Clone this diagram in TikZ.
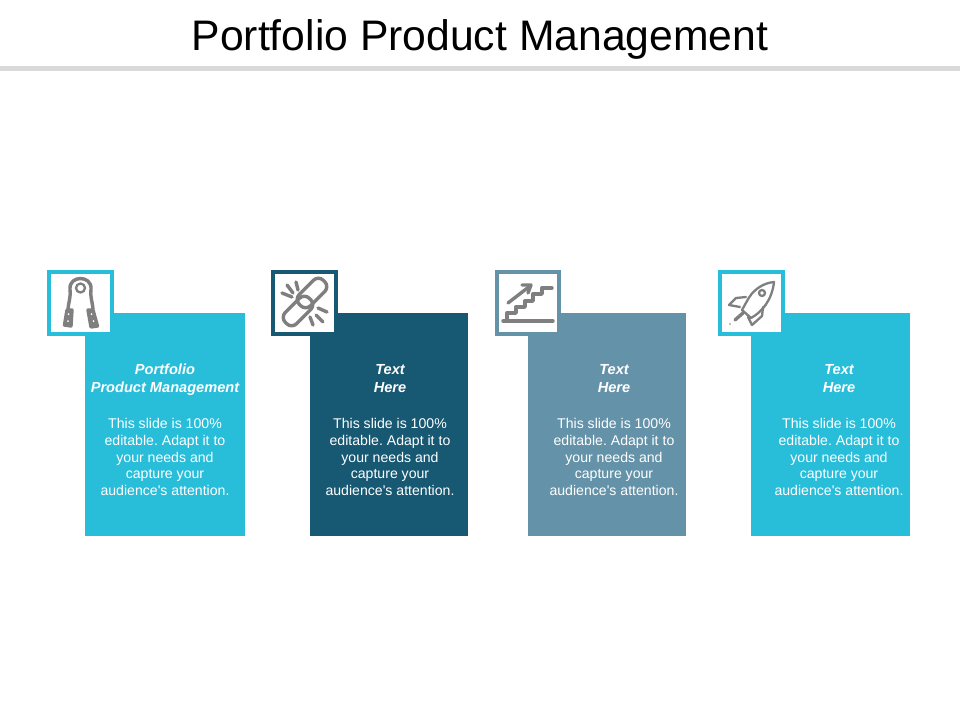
\documentclass[tikz,border=0pt]{standalone}
\usepackage{fontspec}
\setmainfont{Liberation Sans}
\definecolor{cardcyan}{HTML}{28BDD9}
\definecolor{carddark}{HTML}{175873}
\definecolor{cardsteel}{HTML}{6492A8}
\definecolor{icongray}{HTML}{7F7F7F}
\definecolor{rulegray}{HTML}{D9D9D9}
\tikzset{
  card/.style={minimum height=223pt, inner sep=0pt, outer sep=0pt},
  iconbox/.style={draw, line width=4pt, fill=white, minimum size=62.5pt, inner sep=0pt, outer sep=0pt},
  heading/.style={text=white, align=center, inner sep=0pt, font=\fontsize{14.6}{18}\selectfont\bfseries\itshape},
  blurb/.style={text=white, align=center, inner sep=0pt, font=\fontsize{14.1}{16.8}\selectfont\frenchspacing},
  icon/.style={draw=icongray, line width=3.4pt, line cap=round, line join=round},
  iconthin/.style={draw=icongray, line width=2.3pt, line cap=round, line join=round}
}
\begin{document}
\begin{tikzpicture}[x=1pt, y=-1pt]
  \useasboundingbox (0,0) rectangle (960,720);
  \node [inner sep=0pt, font=\fontsize{42.7}{48}\selectfont] (title) at (480,39) {Portfolio Product Management};
  \fill [rulegray] (0,65.5) rectangle (960,71);

  \node [card, fill=cardcyan, minimum width=160pt] (card1) at (165,424.5) {};
  \node [card, fill=carddark, minimum width=158pt] (card2) at (389,424.5) {};
  \node [card, fill=cardsteel, minimum width=158pt] (card3) at (607,424.5) {};
  \node [card, fill=cardcyan, minimum width=159pt] (card4) at (830.5,424.5) {};

  \node [iconbox, draw=cardcyan] (box1) at (80.5,303) {};
  \node [iconbox, draw=carddark] (box2) at (304.5,303) {};
  \node [iconbox, draw=cardsteel] (box3) at (528,303) {};
  \node [iconbox, draw=cardcyan] (box4) at (751.5,303) {};

  \node [heading] (head1) at (165,380) {Portfolio\\Product Management};
  \node [heading] (head2) at (390,378.5) {Text\\Here};
  \node [heading] (head3) at (614,378.5) {Text\\Here};
  \node [heading] (head4) at (839,378.5) {Text\\Here};

  \node [blurb] (blurb1) at (165,457) {This slide is 100\%\\editable. Adapt it to\\your needs and\\capture your\\audience\textquotesingle s attention.};
  \node [blurb] (blurb2) at (390,457) {This slide is 100\%\\editable. Adapt it to\\your needs and\\capture your\\audience\textquotesingle s attention.};
  \node [blurb] (blurb3) at (614,457) {This slide is 100\%\\editable. Adapt it to\\your needs and\\capture your\\audience\textquotesingle s attention.};
  \node [blurb] (blurb4) at (839,457) {This slide is 100\%\\editable. Adapt it to\\your needs and\\capture your\\audience\textquotesingle s attention.};

  % gripper
  \draw [icon] (68,309) .. controls (69,300) and (71,296) .. (70,289) .. controls (69,275) and (92,275) .. (91,289) .. controls (90,296) and (92,300) .. (93,309);
  \draw [iconthin] (80.5,288) circle (4.5);
  \draw [icon, fill=icongray] (67,310) -- (72,310) -- (71,326) -- (64.5,325) -- cycle;
  \draw [icon, fill=icongray] (88,310) -- (93,310) -- (97.5,326) -- (91,327) -- cycle;
  \fill [white] (68.5,314) circle (1) (68,321) circle (1) (91.5,314) circle (1) (93.5,321) circle (1);

  % chain
  \draw [icon, rounded corners=7pt, rotate around={45:(312,293)}] (295,285) rectangle (329,301);
  \draw [icon, rounded corners=7pt, rotate around={45:(298,311)}] (281,303) rectangle (315,319);
  \draw [icon] (282,293) -- (292,297);
  \draw [icon] (287,285) -- (293,293);
  \draw [icon] (296,282) -- (298,290);
  \draw [icon] (318,308) -- (327,312);
  \draw [icon] (316,315) -- (323,322);
  \draw [icon] (310,317) -- (313,325);

  % stairs
  \draw [icon] (503,321) -- (553,321);
  \draw [icon] (507,320) -- (507,313) -- (516,313) -- (516,307) -- (525,307) -- (525,301) -- (533,301) -- (533,294) -- (542,294) -- (542,288) -- (552,288);
  \draw [icon] (508,303) -- (530,286);
  \draw [icon] (522,285) -- (531,285) -- (528,293);

  % rocket
  \draw [iconthin] (774,282) .. controls (762,283) and (752,291) .. (747,301) -- (742,310) -- (751,318) .. controls (762,312) and (772,300) .. (774,282) -- cycle;
  \draw [iconthin] (762,293) circle (3);
  \draw [iconthin] (746,297) -- (736,298) -- (729,305) -- (740,307);
  \draw [iconthin] (763,307) -- (762,316) -- (752,325) -- (748,317);
  \draw [icon] (735,320) -- (743,313);
  \fill [icongray] (730,324) circle (.9);
\end{tikzpicture}
\end{document}
